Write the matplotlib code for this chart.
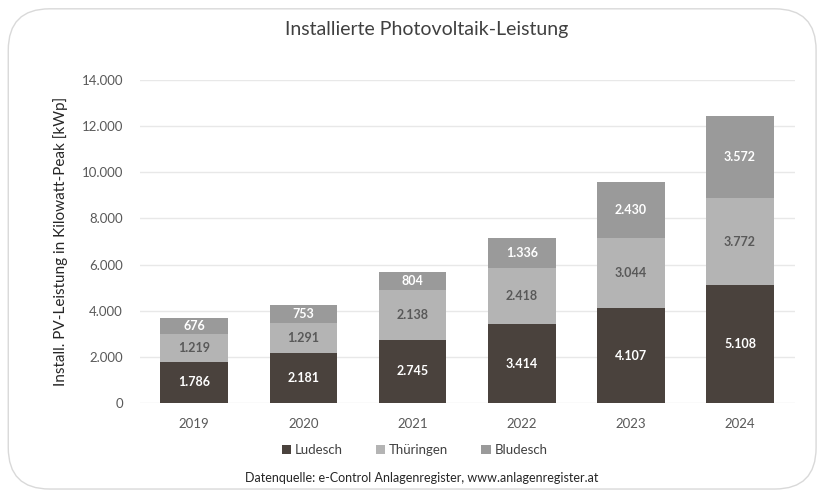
import numpy as np
import matplotlib.pyplot as plt
from matplotlib.patches import FancyBboxPatch

years = ['2019', '2020', '2021', '2022', '2023', '2024']
ludesch = [1786, 2181, 2745, 3414, 4107, 5108]
thueringen = [1219, 1291, 2138, 2418, 3044, 3772]
bludesch = [676, 753, 804, 1336, 2430, 3572]

series = [
    ('Ludesch', ludesch, '#4a423d', 'white'),
    ('Thüringen', thueringen, '#b4b4b4', '#595959'),
    ('Bludesch', bludesch, '#9a9a9a', 'white'),
]

def fmt(v):
    return f'{v:,}'.replace(',', '.')

plt.rcParams['font.family'] = ['Lato', 'DejaVu Sans']

fig = plt.figure(figsize=(8.26, 4.9), dpi=100)
# rounded frame
frame = FancyBboxPatch((0.010, 0.002), 0.978, 0.98,
                       boxstyle='round,pad=0,rounding_size=0.05',
                       transform=fig.transFigure, facecolor='none',
                       edgecolor='#d9d9d9', linewidth=1.0, mutation_aspect=826 / 490,
                       zorder=-1)
fig.patches.append(frame)

ax = fig.add_axes([0.169, 0.1776, 0.793, 0.6594])
ax.patch.set_alpha(0)
x = np.arange(len(years))
bottom = np.zeros(len(years))
for name, vals, color, tcolor in series:
    bars = ax.bar(x, vals, 0.62, bottom=bottom, color=color, label=name, zorder=2)
    for xi, b, v in zip(x, bottom, vals):
        ax.text(xi, b + v / 2, fmt(v), ha='center', va='center',
                color=tcolor, fontsize=9, fontweight='bold', zorder=3)
    bottom += np.array(vals)

ax.set_xlim(-0.5, 5.5)
ax.set_ylim(0, 14000)
ax.set_yticks(range(0, 14001, 2000))
ax.set_yticklabels([fmt(v) for v in range(0, 14001, 2000)])
ax.set_xticks(x)
ax.set_xticklabels(years)
ax.yaxis.grid(True, color='#e8e8e8', linewidth=1, zorder=0)
ax.set_axisbelow(True)
for s in ax.spines.values():
    s.set_visible(False)
ax.tick_params(length=0, colors='#595959', labelsize=9.5)
ax.tick_params(axis='x', pad=11)
ax.tick_params(axis='y', pad=12)
ax.set_ylabel('Install. PV-Leistung in Kilowatt-Peak [kWp]', fontsize=11, color='#262626', labelpad=10)

fig.text(0.517, 0.94, 'Installierte Photovoltaik-Leistung', ha='center', va='center',
         fontsize=14, color='#404040')
ax.legend(loc='center', bbox_to_anchor=(0.42, -0.145), ncol=3, frameon=False,
          fontsize=9.5, handlelength=0.7, handleheight=0.7, handletextpad=0.3,
          columnspacing=2.5, labelcolor='#404040')
fig.text(0.511, 0.024, 'Datenquelle: e-Control Anlagenregister, www.anlagenregister.at',
         ha='center', va='center', fontsize=9, color='#262626')

fig.savefig('out.png', dpi=100)
